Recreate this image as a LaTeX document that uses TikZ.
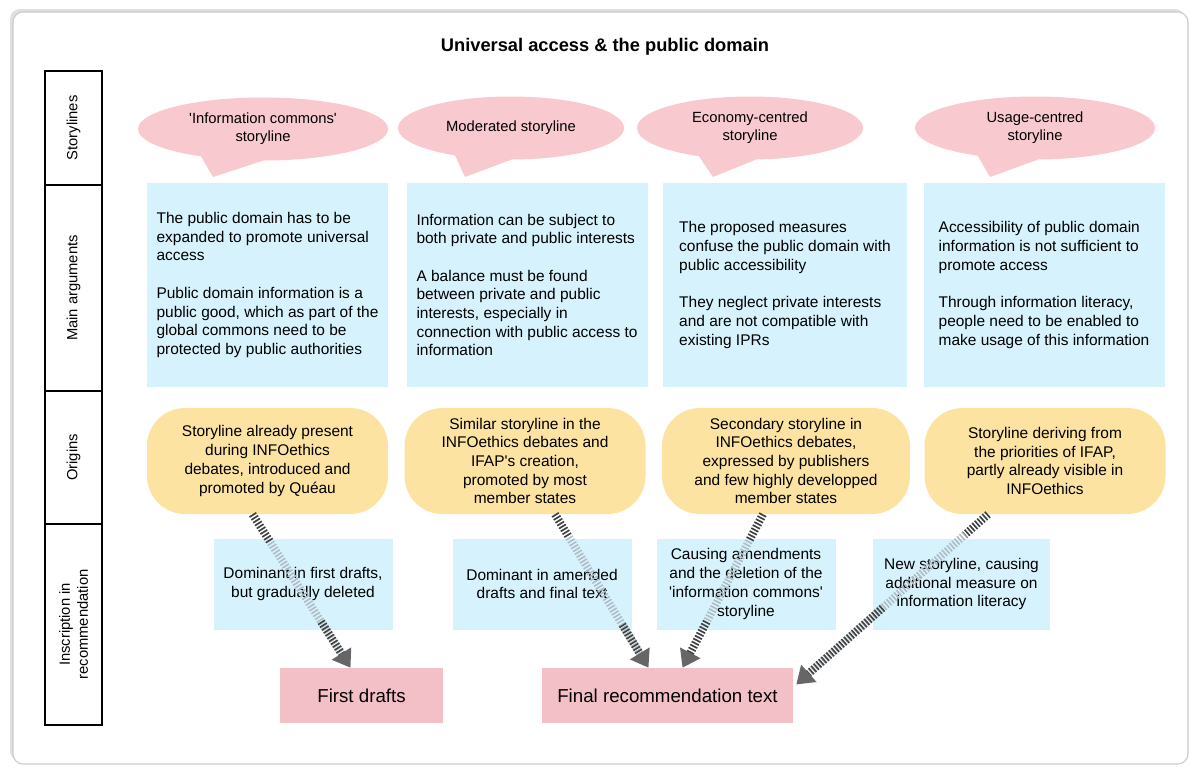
\documentclass[tikz,border=0pt]{standalone}
\usepackage{fontspec}
\setmainfont{Liberation Sans}
\usetikzlibrary{shapes.geometric,shapes.callouts,positioning,calc,arrows.meta}

\definecolor{bubblepink}{RGB}{248,202,207}
\definecolor{resultpink}{RGB}{243,192,200}
\definecolor{argblue}{RGB}{214,242,252}
\definecolor{originyellow}{RGB}{252,227,162}
\definecolor{hatchlight}{RGB}{175,188,196}

\newdimen\pu \pu=0.025cm

\tikzset{
	bubble/.style={ellipse callout, fill=bubblepink, minimum width=226\pu, minimum height=63\pu,
		callout pointer arc=30, inner sep=0pt, align=center, font=\fontsize{10.5}{12.8}\selectfont},
	argbox/.style={fill=argblue, minimum width=241\pu, minimum height=204\pu,
		inner sep=0pt, align=left},
	originbox/.style={fill=originyellow, rounded corners=38\pu, minimum width=241\pu,
		minimum height=106\pu, inner sep=0pt, align=center},
	inscbox/.style={fill=argblue, minimum width=179\pu, minimum height=91\pu,
		inner sep=0pt, align=center},
	resultbox/.style={fill=resultpink, minimum height=55\pu, inner sep=0pt,
		font=\fontsize{13.3}{16}\selectfont},
	rowlabel/.style={draw, line width=1.5pt, rotate=90, minimum height=57\pu,
		inner sep=0pt, align=center, font=\fontsize{10.5}{12.8}\selectfont},
	hatch/.style={line width=8\pu, dash pattern=on 1.1pt off 1.3pt},
}

\begin{document}
\begin{tikzpicture}[x=1\pu, y=-1\pu, font=\fontsize{11}{13.3}\selectfont]
	\useasboundingbox (0,0) rectangle (1192,769);

	% frame
	\fill[black!12, rounded corners=10\pu] (10,9) rectangle (1185,761);
	\draw[black!20, fill=white, line width=0.8pt, rounded corners=10\pu] (13,12) rectangle (1188,764);

	\node[font=\bfseries\fontsize{13}{15}\selectfont] (title) at (605,47) {Universal access \& the public domain};

	% row labels
	\node[rowlabel, minimum width=114\pu] (r1) at (73.5,128) {Storylines};
	\node[rowlabel, minimum width=206\pu] (r2) at (73.5,288) {Main arguments};
	\node[rowlabel, minimum width=133\pu] (r3) at (73.5,457.5) {Origins};
	\node[rowlabel, minimum width=201\pu] (r4) at (73.5,624.5) {Inscription in\\recommendation};

	% storylines
	\node[bubble, minimum width=250\pu, callout absolute pointer={(213,177)}] (b1) at (263,129)
		{\textquotesingle Information commons\textquotesingle\\storyline};
	\node[bubble, callout absolute pointer={(465,177)}] (b2) at (511,128) {Moderated storyline};
	\node[bubble, callout absolute pointer={(713,177)}] (b3) at (750,128) {Economy-centred\\storyline};
	\node[bubble, minimum width=240\pu, callout absolute pointer={(990,177)}] (b4) at (1035,128)
		{Usage-centred\\storyline};

	% main arguments
	\node[argbox] (a1) at (267.5,285) {The public domain has to be\\expanded to promote universal\\access\\[13.3pt]
		Public domain information is a\\public good, which as part of the\\global commons need to be\\protected by public authorities};
	\node[argbox] (a2) at (527,285) {Information can be subject to\\both private and public interests\\[13.3pt]
		A balance must be found\\between private and public\\interests, especially in\\connection with public access to\\information};
	\node[argbox, minimum width=244\pu] (a3) at (785,285) {The proposed measures\\confuse the public domain with\\public accessibility\\[13.3pt]
		They neglect private interests\\and are not compatible with\\existing IPRs};
	\node[argbox] (a4) at (1044,285) {Accessibility of public domain\\information is not sufficient to\\promote access\\[13.3pt]
		Through information literacy,\\people need to be enabled to\\make usage of this information};

	% origins
	\node[originbox] (o1) at (267.5,461) {Storyline already present\\during INFOethics\\debates, introduced and\\promoted by Quéau};
	\node[originbox] (o2) at (525,461) {Similar storyline in the\\INFOethics debates and\\IFAP\textquotesingle s creation,\\promoted by most\\member states};
	\node[originbox, minimum width=248\pu] (o3) at (786,461) {Secondary storyline in\\INFOethics debates,\\expressed by publishers\\and few highly developped\\member states};
	\node[originbox] (o4) at (1045,461) {Storyline deriving from\\the priorities of IFAP,\\partly already visible in\\INFOethics};

	% inscription
	\node[inscbox] (i1) at (303,584) {Dominant in first drafts,\\but gradually deleted};
	\node[inscbox] (i2) at (542,584) {Dominant in amended\\drafts and final text};
	\node[inscbox] (i3) at (746,584) {Causing amendments\\and the deletion of the\\\textquotesingle information commons\textquotesingle\\storyline};
	\node[inscbox, minimum width=177\pu] (i4) at (961.5,584) {New storyline, causing\\additional measure on\\information literacy};

	\node[resultbox, minimum width=163\pu] (f1) at (361.5,695.5) {First drafts};
	\node[resultbox, minimum width=251\pu] (f2) at (667.5,695.5) {Final recommendation text};

	% hatched arrows
	\coordinate (s1) at ($(o1.south)+(-15,0)$);
	\coordinate (e1) at ($(f1.north)+(-11,0)$);
	\coordinate (s2) at ($(o2.south)+(30,0)$);
	\coordinate (e2) at ($(f2.north)+(-19,0)$);
	\coordinate (s3) at ($(o3.south)+(-23,0)$);
	\coordinate (e3) at ($(f2.north)+(15,0)$);
	\coordinate (s4) at ($(o4.south)+(-57,0)$);
	\coordinate (e4) at ($(f2.east)+(3,-11)$);
	\foreach \s/\e/\p/\q in {s1/e1/0.18/0.7, s2/e2/0.15/0.72, s3/e3/0.17/0.7, s4/e4/0.12/0.55} {
		\draw[hatch, draw=hatchlight, -{Triangle[length=0.42cm, width=0.55cm, color=black!60]}] (\s) -- (\e);
		\draw[hatch, draw=black!75] (\s) -- ($(\s)!\p!(\e)$);
		\draw[hatch, draw=black!75] ($(\s)!\q!(\e)$) -- ($(\e)!0.42cm!(\s)$);
	}
\end{tikzpicture}
\end{document}
